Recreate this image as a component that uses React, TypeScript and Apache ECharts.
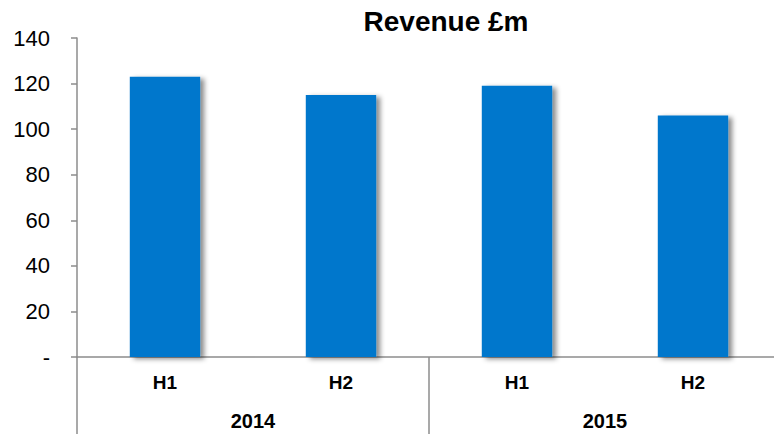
import React, { useEffect, useRef } from "react";
import * as echarts from "echarts";

const halves = ["H1", "H2", "H1", "H2"];
const years = ["2014", "2015"];
const revenue = [123, 115, 119, 106];
const yTicks = { min: 0, max: 140, interval: 20 };
const titleText = "Revenue £m";

const FONT = "'Liberation Sans', Arial, sans-serif";
const AXIS_GRAY = "#8c8c8c";

export default function App() {
  const ref = useRef<HTMLDivElement>(null);
  useEffect(() => {
    if (!ref.current) return;
    const chart = echarts.init(ref.current, undefined, { renderer: "svg" });
    chart.setOption({
      animation: false,
      backgroundColor: "#ffffff",
      textStyle: { fontFamily: FONT },
      title: {
        text: titleText,
        left: 441,
        textAlign: "center",
        top: 2,
        textStyle: { fontFamily: FONT, fontSize: 28, fontWeight: "bold", color: "#000" },
      },
      grid: { left: 77, right: 0, top: 38, bottom: 77 },
      xAxis: [
        {
          type: "category",
          data: halves,
          position: "bottom",
          axisLine: { show: true, lineStyle: { color: AXIS_GRAY, width: 1.5 } },
          axisTick: { show: false },
          axisLabel: {
            margin: 16,
            fontFamily: FONT,
            fontSize: 19,
            fontWeight: "bold",
            color: "#000",
          },
        },
        {
          type: "category",
          data: years,
          position: "bottom",
          axisLine: { show: false },
          axisTick: {
            show: true,
            alignWithLabel: false,
            interval: 0,
            length: 78,
            lineStyle: { color: AXIS_GRAY, width: 1.5 },
          },
          axisLabel: {
            margin: 54,
            fontFamily: FONT,
            fontSize: 20,
            fontWeight: "bold",
            color: "#000",
          },
        },
      ],
      yAxis: {
        type: "value",
        min: yTicks.min,
        max: yTicks.max,
        interval: yTicks.interval,
        splitLine: { show: false },
        axisLine: { show: true, lineStyle: { color: AXIS_GRAY, width: 1.5 } },
        axisTick: { show: true, length: 6, lineStyle: { color: AXIS_GRAY, width: 1.5 } },
        axisLabel: {
          margin: 27,
          fontFamily: FONT,
          fontSize: 22,
          color: "#000",
          formatter: (v: number) => (v === 0 ? "-" : String(v)),
        },
      },
      series: [
        {
          type: "bar",
          xAxisIndex: 0,
          data: revenue,
          barWidth: "40%",
          itemStyle: {
            color: "#0677CC",
            shadowColor: "rgba(0,0,0,0.45)",
            shadowBlur: 5,
            shadowOffsetX: 4,
            shadowOffsetY: 2,
          },
        },
      ],
    });
    return () => chart.dispose();
  }, []);
  return (
    <div
      style={{
        position: "fixed",
        left: 0,
        top: 0,
        width: 774,
        height: 434,
        overflow: "hidden",
        background: "#fff",
      }}
    >
      <div ref={ref} style={{ width: 781, height: 434 }} />
    </div>
  );
}
